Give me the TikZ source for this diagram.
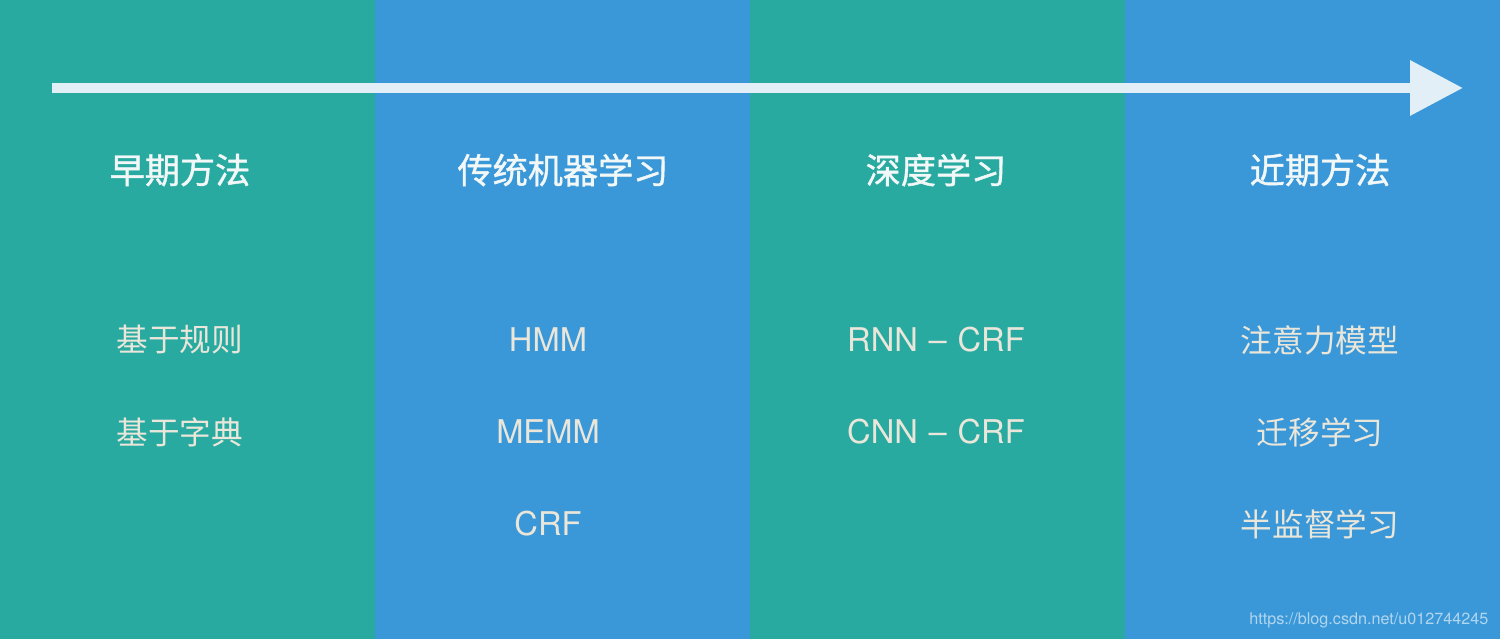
\documentclass[tikz,border=0pt]{standalone}
\usepackage{fontspec}
\setmainfont{TeX Gyre Heros}
\newfontfamily\cjk{Noto Sans CJK SC}
\newfontfamily\cjkhead[FakeBold=1.2]{Noto Sans CJK SC}
\usetikzlibrary{arrows.meta}
\definecolor{teal1}{HTML}{28AAA1}
\definecolor{blue1}{HTML}{3A98D8}
\definecolor{arrowc}{HTML}{E2EFF7}
\definecolor{headc}{HTML}{F2F7F7}
\definecolor{itemc}{HTML}{EAE6DA}
\tikzset{
  head/.style={text=headc, font=\cjkhead\fontsize{10}{12}\selectfont, inner sep=0pt},
  item/.style={text=itemc, font=\cjk\fontsize{9}{11}\selectfont, inner sep=0pt},
  latin/.style={text=itemc, font=\fontsize{9.3}{11}\selectfont, inner sep=0pt}
}
\begin{document}
\begin{tikzpicture}
% columns
\fill[teal1] (0,0) rectangle (3.75,6.39);
\fill[blue1] (3.75,0) rectangle (7.5,6.39);
\fill[teal1] (7.5,0) rectangle (11.25,6.39);
\fill[blue1] (11.25,0) rectangle (15,6.39);
\useasboundingbox (0,0) rectangle (15,6.39);
% time axis
\coordinate (start) at (0.52,5.51);
\coordinate (end) at (14.63,5.51);
\draw[arrowc, line width=0.1cm, -{Triangle[length=0.53cm,width=0.53cm]}] (start) -- (end);
% headings
\node[head] (early) at (1.80,4.69) {早期方法};
\node[head] (ml) at (5.63,4.69) {传统机器学习};
\node[head] (deep) at (9.36,4.69) {深度学习};
\node[head] (recent) at (13.20,4.69) {近期方法};
% early methods
\node[item] (rule) at (1.80,2.99) {基于规则};
\node[item] (dict) at (1.80,2.07) {基于字典};
% machine learning
\node[latin] (hmm) at (5.48,2.99) {HMM};
\node[latin] (memm) at (5.48,2.07) {MEMM};
\node[latin] (crf) at (5.48,1.15) {CRF};
% deep learning
\node[latin] (rnn) at (9.36,2.99) {RNN\ \kern.05em--\kern.05em\ CRF};
\node[latin] (cnn) at (9.36,2.07) {CNN\ \kern.05em--\kern.05em\ CRF};
% recent methods
\node[item] (att) at (13.20,2.99) {注意力模型};
\node[item] (trans) at (13.20,2.07) {迁移学习};
\node[item] (semi) at (13.20,1.15) {半监督学习};
% watermark
\node[text=white, opacity=0.6, font=\fontsize{4.6}{5}\selectfont, inner sep=0pt, anchor=east] (mark) at (14.89,0.19) {https://blog.csdn.net/u012744245};
\end{tikzpicture}
\end{document}
